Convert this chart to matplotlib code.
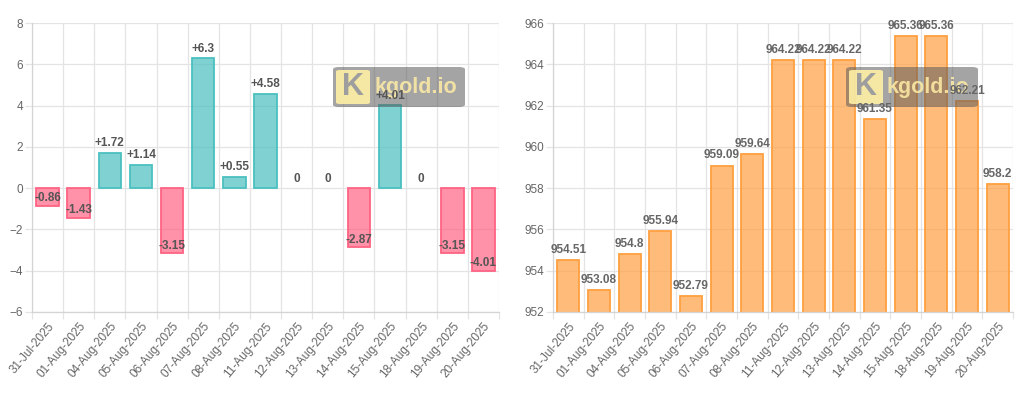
import numpy as np
import matplotlib
matplotlib.use('Agg')
import matplotlib.pyplot as plt
from matplotlib.patches import FancyBboxPatch

plt.rcParams['font.family'] = ['Liberation Sans', 'DejaVu Sans']

dates = ['31-Jul-2025', '01-Aug-2025', '04-Aug-2025', '05-Aug-2025', '06-Aug-2025',
         '07-Aug-2025', '08-Aug-2025', '11-Aug-2025', '12-Aug-2025', '13-Aug-2025',
         '14-Aug-2025', '15-Aug-2025', '18-Aug-2025', '19-Aug-2025', '20-Aug-2025']
change = [-0.86, -1.43, 1.72, 1.14, -3.15, 6.3, 0.55, 4.58, 0, 0, -2.87, 4.01, 0, -3.15, -4.01]
price = [954.51, 953.08, 954.8, 955.94, 952.79, 959.09, 959.64, 964.22, 964.22, 964.22,
         961.35, 965.36, 965.36, 962.21, 958.2]

teal = (75/255, 192/255, 192/255)
pink = (255/255, 99/255, 132/255)
orange = (255/255, 159/255, 64/255)
grid_c = '#e4e4e4'
tick_c = '#666666'
fs = 8.5

fig = plt.figure(figsize=(10.24, 3.98), dpi=100)
ax1 = fig.add_axes([32/1024, 1-312/398, 467/1024, 289/398])
ax2 = fig.add_axes([553/1024, 1-312/398, 460/1024, 289/398])

x = np.arange(len(dates))


def style(ax, ymin, ymax, step):
    ax.set_xlim(-0.5, len(dates) - 0.5)
    ax.set_ylim(ymin, ymax)
    ax.set_yticks(np.arange(ymin, ymax + 0.1, step))
    ax.set_xticks(x)
    ax.set_xticklabels(dates, rotation=50, ha='right', rotation_mode='anchor')
    ax.set_xticks(np.arange(-0.5, len(dates), 1), minor=True)
    ax.grid(True, which='minor', axis='x', color=grid_c, lw=0.9, zorder=0)
    ax.grid(True, which='major', axis='y', color=grid_c, lw=0.9, zorder=0)
    ax.set_axisbelow(True)
    ax.tick_params(axis='x', which='major', length=0, pad=6, labelsize=fs, labelcolor=tick_c)
    ax.tick_params(axis='x', which='minor', length=5, color=grid_c, width=0.9)
    ax.tick_params(axis='y', length=5, color=grid_c, width=0.9, pad=1.5, labelsize=fs, labelcolor=tick_c)
    for s in ['top', 'right']:
        ax.spines[s].set_visible(False)
    for s in ['left', 'bottom']:
        ax.spines[s].set_color('#d4d4d4')
        ax.spines[s].set_linewidth(0.9)


def watermark(ax, x0):
    y0 = 1 - 107/398
    h = 40/398
    box = FancyBboxPatch((x0/1024, y0), 132/1024, h, boxstyle='round,pad=0,rounding_size=0.006',
                         transform=fig.transFigure, facecolor=(0.35, 0.35, 0.35, 0.55),
                         edgecolor='none', zorder=3, clip_on=False)
    ax.add_patch(box)
    sq = FancyBboxPatch(((x0+3)/1024, y0 + 3/398), 34/1024, 34/398,
                        boxstyle='round,pad=0,rounding_size=0.004',
                        transform=fig.transFigure, facecolor=(1, 0.94, 0.65, 0.9),
                        edgecolor='none', zorder=3.1, clip_on=False)
    ax.add_patch(sq)
    ax.text((x0+20)/1024, y0 + h/2, 'K', transform=fig.transFigure, ha='center', va='center',
            fontsize=22, fontweight='bold', color=(0.62, 0.62, 0.62), zorder=3.2)
    ax.text((x0+41)/1024, y0 + h/2 - 1/398, 'kgold.io', transform=fig.transFigure, ha='left',
            va='center', fontsize=15.5, fontweight='bold', color=(1, 0.93, 0.65, 0.85), zorder=3.2)


# left chart: daily change
style(ax1, -6, 8, 2)
cols = [teal if v >= 0 else pink for v in change]
lws = [1.3 if v != 0 else 0 for v in change]
ax1.bar(x, change, width=0.72, color=[c + (0.7,) for c in cols], edgecolor=cols, linewidth=lws, zorder=2)
for i, v in enumerate(change):
    if v > 0:
        ax1.annotate('+' + str(v), (i, v), xytext=(0, 2.5), textcoords='offset points',
                     ha='center', va='bottom', fontsize=fs, fontweight='bold', color='#555555', zorder=5)
    elif v == 0:
        ax1.annotate('0', (i, v), xytext=(0, 2.5), textcoords='offset points',
                     ha='center', va='bottom', fontsize=fs, fontweight='bold', color='#555555', zorder=5)
    else:
        ax1.annotate(str(v), (i, v), xytext=(0, 5.5), textcoords='offset points',
                     ha='center', va='center', fontsize=fs, fontweight='bold', color='#555555', zorder=5)
watermark(ax1, 333)

# right chart: price
style(ax2, 952, 966, 2)
ax2.bar(x, price, width=0.72, color=orange + (0.7,), edgecolor=orange, linewidth=1.3, zorder=2)
for i, v in enumerate(price):
    ax2.annotate(str(v), (i, v), xytext=(0, 3), textcoords='offset points',
                 ha='center', va='bottom', fontsize=fs, fontweight='bold', color='#666666', zorder=5)
watermark(ax2, 846)

plt.savefig('out.png', dpi=100)
